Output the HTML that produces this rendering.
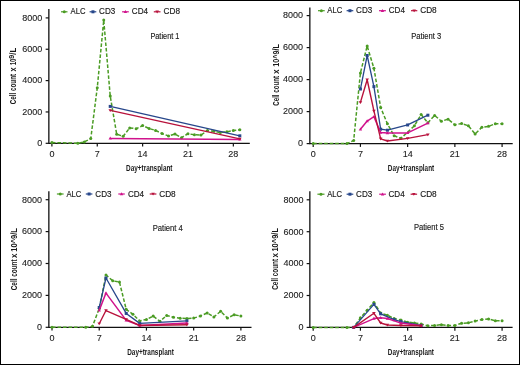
<!DOCTYPE html>
<html><head><meta charset="utf-8"><style>
html,body{margin:0;padding:0;background:#fff;}
body{width:520px;height:365px;overflow:hidden;}
svg{display:block;will-change:transform;}
text{font-family:"Liberation Sans", sans-serif;fill:#1a1a1a;}
.tk{font-size:9px;stroke:#1a1a1a;stroke-width:0.1px;}
.lg{font-size:7.65px;stroke:#1a1a1a;stroke-width:0.15px;}
.ax{font-size:9.2px;font-weight:bold;}
</style></head><body>
<svg width="520" height="365" viewBox="0 0 520 365">
<rect x="0" y="0" width="520" height="365" fill="#fff"/>
<g><path d="M48.85 9V143.3H249.8" fill="none" stroke="#111111" stroke-width="1.3"/><path d="M45.65 143.3H48.85" stroke="#111111" stroke-width="1.2"/><text x="42.3" y="146.15" text-anchor="end" class="tk">0</text><path d="M45.65 111.95H48.85" stroke="#111111" stroke-width="1.2"/><text x="42.3" y="114.8" text-anchor="end" class="tk">2000</text><path d="M45.65 80.6H48.85" stroke="#111111" stroke-width="1.2"/><text x="42.3" y="83.45" text-anchor="end" class="tk">4000</text><path d="M45.65 49.25H48.85" stroke="#111111" stroke-width="1.2"/><text x="42.3" y="52.1" text-anchor="end" class="tk">6000</text><path d="M45.65 17.9H48.85" stroke="#111111" stroke-width="1.2"/><text x="42.3" y="20.75" text-anchor="end" class="tk">8000</text><path d="M51.9 143.3V146.6" stroke="#111111" stroke-width="1.2"/><text x="51.9" y="157" text-anchor="middle" class="tk">0</text><path d="M97.26 143.3V146.6" stroke="#111111" stroke-width="1.2"/><text x="97.26" y="157" text-anchor="middle" class="tk">7</text><path d="M142.62 143.3V146.6" stroke="#111111" stroke-width="1.2"/><text x="142.62" y="157" text-anchor="middle" class="tk">14</text><path d="M187.98 143.3V146.6" stroke="#111111" stroke-width="1.2"/><text x="187.98" y="157" text-anchor="middle" class="tk">21</text><path d="M233.34 143.3V146.6" stroke="#111111" stroke-width="1.2"/><text x="233.34" y="157" text-anchor="middle" class="tk">28</text><path d="M51.9 142.52L77.82 143.3L84.3 141.89L90.78 138.6L97.26 87.81L103.74 20.09L110.22 95.96L116.7 134.21L123.18 136.29L129.66 127.91L136.14 128.71L142.62 125.6L149.1 128.5L155.58 130.4L162.06 133.6L168.54 136L175.02 134L181.5 137.7L187.98 133.71L194.46 134.8L200.94 135.1L207.42 130.51L213.9 131.31L220.38 132.48L226.86 131.86L233.34 130.51L239.82 129.8" fill="none" stroke="#4b9c24" stroke-width="1.5" stroke-linejoin="round" stroke-dasharray="3.6 1.9"/><circle cx="51.9" cy="142.52" r="1.5" fill="#4b9c24"/><circle cx="77.82" cy="143.3" r="1.5" fill="#4b9c24"/><circle cx="84.3" cy="141.89" r="1.5" fill="#4b9c24"/><circle cx="90.78" cy="138.6" r="1.5" fill="#4b9c24"/><circle cx="97.26" cy="87.81" r="1.5" fill="#4b9c24"/><circle cx="103.74" cy="20.09" r="1.5" fill="#4b9c24"/><circle cx="110.22" cy="95.96" r="1.5" fill="#4b9c24"/><circle cx="116.7" cy="134.21" r="1.5" fill="#4b9c24"/><circle cx="123.18" cy="136.29" r="1.5" fill="#4b9c24"/><circle cx="129.66" cy="127.91" r="1.5" fill="#4b9c24"/><circle cx="136.14" cy="128.71" r="1.5" fill="#4b9c24"/><circle cx="142.62" cy="125.6" r="1.5" fill="#4b9c24"/><circle cx="149.1" cy="128.5" r="1.5" fill="#4b9c24"/><circle cx="155.58" cy="130.4" r="1.5" fill="#4b9c24"/><circle cx="162.06" cy="133.6" r="1.5" fill="#4b9c24"/><circle cx="168.54" cy="136" r="1.5" fill="#4b9c24"/><circle cx="175.02" cy="134" r="1.5" fill="#4b9c24"/><circle cx="181.5" cy="137.7" r="1.5" fill="#4b9c24"/><circle cx="187.98" cy="133.71" r="1.5" fill="#4b9c24"/><circle cx="194.46" cy="134.8" r="1.5" fill="#4b9c24"/><circle cx="200.94" cy="135.1" r="1.5" fill="#4b9c24"/><circle cx="207.42" cy="130.51" r="1.5" fill="#4b9c24"/><circle cx="213.9" cy="131.31" r="1.5" fill="#4b9c24"/><circle cx="220.38" cy="132.48" r="1.5" fill="#4b9c24"/><circle cx="226.86" cy="131.86" r="1.5" fill="#4b9c24"/><circle cx="233.34" cy="130.51" r="1.5" fill="#4b9c24"/><circle cx="239.82" cy="129.8" r="1.5" fill="#4b9c24"/><path d="M110.22 106.4L239.82 135.81" fill="none" stroke="#27478b" stroke-width="1.3" stroke-linejoin="round"/><rect x="108.72" y="104.9" width="3" height="3" fill="#27478b"/><rect x="238.32" y="134.31" width="3" height="3" fill="#27478b"/><path d="M110.22 138.41L239.82 139.38" fill="none" stroke="#d0128c" stroke-width="1.5" stroke-linejoin="round"/><path d="M110.22 136.61L111.92 139.61L108.52 139.61Z" fill="#d0128c"/><path d="M239.82 137.58L241.52 140.58L238.12 140.58Z" fill="#d0128c"/><path d="M110.22 110.4L239.82 138.91" fill="none" stroke="#b8123c" stroke-width="1.4" stroke-linejoin="round"/><path d="M108.42 109.2L112.02 109.2L110.22 112Z" fill="#b8123c"/><path d="M238.02 137.71L241.62 137.71L239.82 140.51Z" fill="#b8123c"/><path d="M61 11.8H67.5" stroke="#4b9c24" stroke-width="1.2"/><circle cx="64.25" cy="11.8" r="1.5" fill="#4b9c24"/><text x="70.6" y="13.9" class="lg" style="font-size:8.6px" textLength="14.9" lengthAdjust="spacingAndGlyphs">ALC</text><path d="M89.6 11.8H96.3" stroke="#27478b" stroke-width="1.2"/><rect x="91.45" y="10.3" width="3" height="3" fill="#27478b"/><text x="99.1" y="13.9" class="lg" style="font-size:8.6px" textLength="16.2" lengthAdjust="spacingAndGlyphs">CD3</text><path d="M122.1 11.8H128.8" stroke="#d0128c" stroke-width="1.2"/><path d="M125.45 10L127.15 13L123.75 13Z" fill="#d0128c"/><text x="131.8" y="13.9" class="lg" style="font-size:8.6px" textLength="16.2" lengthAdjust="spacingAndGlyphs">CD4</text><path d="M153.8 11.8H160.5" stroke="#b8123c" stroke-width="1.2"/><path d="M155.35 10.6L158.95 10.6L157.15 13.4Z" fill="#b8123c"/><text x="163.5" y="13.9" class="lg" style="font-size:8.6px" textLength="16.5" lengthAdjust="spacingAndGlyphs">CD8</text><text x="150.4" y="39.4" class="lg" style="font-size:8.3px" textLength="29" lengthAdjust="spacingAndGlyphs">Patient 1</text><text x="126" y="170.7" class="ax" textLength="46.5" lengthAdjust="spacingAndGlyphs">Day+transplant</text><text transform="translate(16.4 104.25) rotate(-90)" x="0" y="0" class="ax" style="font-size:9.4px" textLength="30.3" lengthAdjust="spacingAndGlyphs">Cell count</text><text transform="translate(16.4 71.55) rotate(-90)" x="0" y="0" class="ax" style="font-size:9.4px" textLength="4.1" lengthAdjust="spacingAndGlyphs">x</text><text transform="translate(16.4 65.35) rotate(-90)" x="0" y="0" class="ax" style="font-size:9px" textLength="6.8" lengthAdjust="spacingAndGlyphs">10</text><text transform="translate(14 58.75) rotate(-90)" x="0" y="0" class="ax" style="font-size:7px" textLength="4" lengthAdjust="spacingAndGlyphs">9</text><text transform="translate(16.4 54.75) rotate(-90)" x="0" y="0" class="ax" style="font-size:9.5px" textLength="6.9" lengthAdjust="spacingAndGlyphs">/L</text></g>
<g><path d="M309.85 7.5V143.6H512.7" fill="none" stroke="#111111" stroke-width="1.3"/><path d="M306.65 143.6H309.85" stroke="#111111" stroke-width="1.2"/><text x="303" y="146.45" text-anchor="end" class="tk">0</text><path d="M306.65 111.6H309.85" stroke="#111111" stroke-width="1.2"/><text x="303" y="114.45" text-anchor="end" class="tk">2000</text><path d="M306.65 79.6H309.85" stroke="#111111" stroke-width="1.2"/><text x="303" y="82.45" text-anchor="end" class="tk">4000</text><path d="M306.65 47.6H309.85" stroke="#111111" stroke-width="1.2"/><text x="303" y="50.45" text-anchor="end" class="tk">6000</text><path d="M306.65 15.6H309.85" stroke="#111111" stroke-width="1.2"/><text x="303" y="18.45" text-anchor="end" class="tk">8000</text><path d="M313.2 143.6V146.9" stroke="#111111" stroke-width="1.2"/><text x="313.2" y="157.3" text-anchor="middle" class="tk">0</text><path d="M360.42 143.6V146.9" stroke="#111111" stroke-width="1.2"/><text x="360.42" y="157.3" text-anchor="middle" class="tk">7</text><path d="M407.64 143.6V146.9" stroke="#111111" stroke-width="1.2"/><text x="407.64" y="157.3" text-anchor="middle" class="tk">14</text><path d="M454.87 143.6V146.9" stroke="#111111" stroke-width="1.2"/><text x="454.87" y="157.3" text-anchor="middle" class="tk">21</text><path d="M502.09 143.6V146.9" stroke="#111111" stroke-width="1.2"/><text x="502.09" y="157.3" text-anchor="middle" class="tk">28</text><path d="M313.2 143.6L346.93 143.6L353.68 140.4L360.42 72.88L367.17 46L373.91 68.3L380.66 107.44L387.41 123.84L394.15 135.7L400.9 138.32L414.39 125.81L421.14 114.5L427.88 122.8L434.63 115.41L441.37 121.2L448.12 119.2L454.87 124.8L461.61 123.5L468.36 125.81L475.1 134L481.85 127.3L488.6 126.3L495.34 123.81L502.09 123.81" fill="none" stroke="#4b9c24" stroke-width="1.5" stroke-linejoin="round" stroke-dasharray="3.6 1.9"/><circle cx="313.2" cy="143.6" r="1.5" fill="#4b9c24"/><circle cx="346.93" cy="143.6" r="1.5" fill="#4b9c24"/><circle cx="353.68" cy="140.4" r="1.5" fill="#4b9c24"/><circle cx="360.42" cy="72.88" r="1.5" fill="#4b9c24"/><circle cx="367.17" cy="46" r="1.5" fill="#4b9c24"/><circle cx="373.91" cy="68.3" r="1.5" fill="#4b9c24"/><circle cx="380.66" cy="107.44" r="1.5" fill="#4b9c24"/><circle cx="387.41" cy="123.84" r="1.5" fill="#4b9c24"/><circle cx="394.15" cy="135.7" r="1.5" fill="#4b9c24"/><circle cx="400.9" cy="138.32" r="1.5" fill="#4b9c24"/><circle cx="414.39" cy="125.81" r="1.5" fill="#4b9c24"/><circle cx="421.14" cy="114.5" r="1.5" fill="#4b9c24"/><circle cx="427.88" cy="122.8" r="1.5" fill="#4b9c24"/><circle cx="434.63" cy="115.41" r="1.5" fill="#4b9c24"/><circle cx="441.37" cy="121.2" r="1.5" fill="#4b9c24"/><circle cx="448.12" cy="119.2" r="1.5" fill="#4b9c24"/><circle cx="454.87" cy="124.8" r="1.5" fill="#4b9c24"/><circle cx="461.61" cy="123.5" r="1.5" fill="#4b9c24"/><circle cx="468.36" cy="125.81" r="1.5" fill="#4b9c24"/><circle cx="475.1" cy="134" r="1.5" fill="#4b9c24"/><circle cx="481.85" cy="127.3" r="1.5" fill="#4b9c24"/><circle cx="488.6" cy="126.3" r="1.5" fill="#4b9c24"/><circle cx="495.34" cy="123.81" r="1.5" fill="#4b9c24"/><circle cx="502.09" cy="123.81" r="1.5" fill="#4b9c24"/><path d="M360.42 89.01L367.17 55.5L373.91 86.61L380.66 129.2L387.41 130.21L407.64 124.96L427.88 115.2" fill="none" stroke="#27478b" stroke-width="1.3" stroke-linejoin="round"/><rect x="358.92" y="87.51" width="3" height="3" fill="#27478b"/><rect x="365.67" y="54" width="3" height="3" fill="#27478b"/><rect x="372.41" y="85.11" width="3" height="3" fill="#27478b"/><rect x="379.16" y="127.7" width="3" height="3" fill="#27478b"/><rect x="385.91" y="128.71" width="3" height="3" fill="#27478b"/><rect x="406.14" y="123.46" width="3" height="3" fill="#27478b"/><rect x="426.38" y="113.7" width="3" height="3" fill="#27478b"/><path d="M360.42 129.3L367.17 121.04L373.91 116.72L380.66 132.61L387.41 133.01L407.64 132.88L427.88 123.1" fill="none" stroke="#d0128c" stroke-width="1.5" stroke-linejoin="round"/><path d="M360.42 127.5L362.12 130.5L358.72 130.5Z" fill="#d0128c"/><path d="M367.17 119.24L368.87 122.24L365.47 122.24Z" fill="#d0128c"/><path d="M373.91 114.92L375.61 117.92L372.21 117.92Z" fill="#d0128c"/><path d="M380.66 130.81L382.36 133.81L378.96 133.81Z" fill="#d0128c"/><path d="M387.41 131.21L389.11 134.21L385.71 134.21Z" fill="#d0128c"/><path d="M407.64 131.08L409.34 134.08L405.94 134.08Z" fill="#d0128c"/><path d="M427.88 121.3L429.58 124.3L426.18 124.3Z" fill="#d0128c"/><path d="M360.42 102.4L367.17 79.76L373.91 110.85L380.66 138.8L387.41 141.01L407.64 138.35L427.88 134.61" fill="none" stroke="#b8123c" stroke-width="1.4" stroke-linejoin="round"/><path d="M358.62 101.2L362.22 101.2L360.42 104Z" fill="#b8123c"/><path d="M365.37 78.56L368.97 78.56L367.17 81.36Z" fill="#b8123c"/><path d="M372.11 109.65L375.71 109.65L373.91 112.45Z" fill="#b8123c"/><path d="M378.86 137.6L382.46 137.6L380.66 140.4Z" fill="#b8123c"/><path d="M385.61 139.81L389.21 139.81L387.41 142.61Z" fill="#b8123c"/><path d="M405.84 137.15L409.44 137.15L407.64 139.95Z" fill="#b8123c"/><path d="M426.08 133.41L429.68 133.41L427.88 136.21Z" fill="#b8123c"/><path d="M318 10.7H324.7" stroke="#4b9c24" stroke-width="1.2"/><circle cx="321.35" cy="10.7" r="1.5" fill="#4b9c24"/><text x="327.3" y="13.3" class="lg" style="font-size:8.6px" textLength="14.9" lengthAdjust="spacingAndGlyphs">ALC</text><path d="M346.6 10.7H353.3" stroke="#27478b" stroke-width="1.2"/><rect x="348.45" y="9.2" width="3" height="3" fill="#27478b"/><text x="356.1" y="13.3" class="lg" style="font-size:8.6px" textLength="16.2" lengthAdjust="spacingAndGlyphs">CD3</text><path d="M379 10.7H385.9" stroke="#d0128c" stroke-width="1.2"/><path d="M382.45 8.9L384.15 11.9L380.75 11.9Z" fill="#d0128c"/><text x="388.7" y="13.3" class="lg" style="font-size:8.6px" textLength="16.2" lengthAdjust="spacingAndGlyphs">CD4</text><path d="M411 10.7H417.3" stroke="#b8123c" stroke-width="1.2"/><path d="M412.35 9.5L415.95 9.5L414.15 12.3Z" fill="#b8123c"/><text x="420.2" y="13.3" class="lg" style="font-size:8.6px" textLength="16.5" lengthAdjust="spacingAndGlyphs">CD8</text><text x="411.3" y="39.4" class="lg" style="font-size:8.3px" textLength="29.9" lengthAdjust="spacingAndGlyphs">Patient 3</text><text x="387.8" y="170.7" class="ax" textLength="46.4" lengthAdjust="spacingAndGlyphs">Day+transplant</text><text transform="translate(278.5 105.75) rotate(-90)" x="0" y="0" class="ax" style="font-size:9.4px" textLength="29.8" lengthAdjust="spacingAndGlyphs">Cell count</text><text transform="translate(278.5 73.95) rotate(-90)" x="0" y="0" class="ax" style="font-size:9.4px" textLength="4.6" lengthAdjust="spacingAndGlyphs">x</text><text transform="translate(278.5 66.75) rotate(-90)" x="0" y="0" class="ax" style="font-size:9.5px" textLength="22.8" lengthAdjust="spacingAndGlyphs">10^9/L</text></g>
<g><path d="M48.85 191.2V327.3H251.5" fill="none" stroke="#111111" stroke-width="1.3"/><path d="M45.65 327.3H48.85" stroke="#111111" stroke-width="1.2"/><text x="42" y="330.15" text-anchor="end" class="tk">0</text><path d="M45.65 295.4H48.85" stroke="#111111" stroke-width="1.2"/><text x="42" y="298.25" text-anchor="end" class="tk">2000</text><path d="M45.65 263.5H48.85" stroke="#111111" stroke-width="1.2"/><text x="42" y="266.35" text-anchor="end" class="tk">4000</text><path d="M45.65 231.6H48.85" stroke="#111111" stroke-width="1.2"/><text x="42" y="234.45" text-anchor="end" class="tk">6000</text><path d="M45.65 199.7H48.85" stroke="#111111" stroke-width="1.2"/><text x="42" y="202.55" text-anchor="end" class="tk">8000</text><path d="M52 327.3V330.6" stroke="#111111" stroke-width="1.2"/><text x="52" y="341" text-anchor="middle" class="tk">0</text><path d="M99.22 327.3V330.6" stroke="#111111" stroke-width="1.2"/><text x="99.22" y="341" text-anchor="middle" class="tk">7</text><path d="M146.44 327.3V330.6" stroke="#111111" stroke-width="1.2"/><text x="146.44" y="341" text-anchor="middle" class="tk">14</text><path d="M193.67 327.3V330.6" stroke="#111111" stroke-width="1.2"/><text x="193.67" y="341" text-anchor="middle" class="tk">21</text><path d="M240.89 327.3V330.6" stroke="#111111" stroke-width="1.2"/><text x="240.89" y="341" text-anchor="middle" class="tk">28</text><path d="M52 327.3L85.73 327.3L92.48 326.34L99.22 308.48L105.97 274.9L112.71 280.81L119.46 282.1L126.21 309.36L132.95 314.3L139.7 320.9L146.44 319.4L153.19 316.1L159.94 321.3L166.68 315.5L173.43 317.3L180.17 318.21L186.92 318.5L193.67 318.1L200.41 316.01L207.16 312.9L213.9 316.9L220.65 311.3L227.4 318.1L234.14 314.8L240.89 316.01" fill="none" stroke="#4b9c24" stroke-width="1.5" stroke-linejoin="round" stroke-dasharray="3.6 1.9"/><circle cx="52" cy="327.3" r="1.5" fill="#4b9c24"/><circle cx="85.73" cy="327.3" r="1.5" fill="#4b9c24"/><circle cx="92.48" cy="326.34" r="1.5" fill="#4b9c24"/><circle cx="99.22" cy="308.48" r="1.5" fill="#4b9c24"/><circle cx="105.97" cy="274.9" r="1.5" fill="#4b9c24"/><circle cx="112.71" cy="280.81" r="1.5" fill="#4b9c24"/><circle cx="119.46" cy="282.1" r="1.5" fill="#4b9c24"/><circle cx="126.21" cy="309.36" r="1.5" fill="#4b9c24"/><circle cx="132.95" cy="314.3" r="1.5" fill="#4b9c24"/><circle cx="139.7" cy="320.9" r="1.5" fill="#4b9c24"/><circle cx="146.44" cy="319.4" r="1.5" fill="#4b9c24"/><circle cx="153.19" cy="316.1" r="1.5" fill="#4b9c24"/><circle cx="159.94" cy="321.3" r="1.5" fill="#4b9c24"/><circle cx="166.68" cy="315.5" r="1.5" fill="#4b9c24"/><circle cx="173.43" cy="317.3" r="1.5" fill="#4b9c24"/><circle cx="180.17" cy="318.21" r="1.5" fill="#4b9c24"/><circle cx="186.92" cy="318.5" r="1.5" fill="#4b9c24"/><circle cx="193.67" cy="318.1" r="1.5" fill="#4b9c24"/><circle cx="200.41" cy="316.01" r="1.5" fill="#4b9c24"/><circle cx="207.16" cy="312.9" r="1.5" fill="#4b9c24"/><circle cx="213.9" cy="316.9" r="1.5" fill="#4b9c24"/><circle cx="220.65" cy="311.3" r="1.5" fill="#4b9c24"/><circle cx="227.4" cy="318.1" r="1.5" fill="#4b9c24"/><circle cx="234.14" cy="314.8" r="1.5" fill="#4b9c24"/><circle cx="240.89" cy="316.01" r="1.5" fill="#4b9c24"/><path d="M99.22 307.51L105.97 278L126.21 313.42L139.7 323.39L186.92 320.79" fill="none" stroke="#27478b" stroke-width="1.3" stroke-linejoin="round"/><rect x="97.72" y="306.01" width="3" height="3" fill="#27478b"/><rect x="104.47" y="276.5" width="3" height="3" fill="#27478b"/><rect x="124.71" y="311.92" width="3" height="3" fill="#27478b"/><rect x="138.2" y="321.89" width="3" height="3" fill="#27478b"/><rect x="185.42" y="319.29" width="3" height="3" fill="#27478b"/><path d="M99.22 310.39L105.97 293.1L126.21 320.35L139.7 325.5L186.92 323.11" fill="none" stroke="#d0128c" stroke-width="1.5" stroke-linejoin="round"/><path d="M99.22 308.59L100.92 311.59L97.52 311.59Z" fill="#d0128c"/><path d="M105.97 291.3L107.67 294.3L104.27 294.3Z" fill="#d0128c"/><path d="M126.21 318.55L127.91 321.55L124.51 321.55Z" fill="#d0128c"/><path d="M139.7 323.7L141.4 326.7L138 326.7Z" fill="#d0128c"/><path d="M186.92 321.31L188.62 324.31L185.22 324.31Z" fill="#d0128c"/><path d="M99.22 323.7L105.97 310.55L126.21 319.4L139.7 325.5L186.92 324.8" fill="none" stroke="#b8123c" stroke-width="1.4" stroke-linejoin="round"/><path d="M97.42 322.5L101.02 322.5L99.22 325.3Z" fill="#b8123c"/><path d="M104.17 309.35L107.77 309.35L105.97 312.15Z" fill="#b8123c"/><path d="M124.41 318.2L128.01 318.2L126.21 321Z" fill="#b8123c"/><path d="M137.9 324.3L141.5 324.3L139.7 327.1Z" fill="#b8123c"/><path d="M185.12 323.6L188.72 323.6L186.92 326.4Z" fill="#b8123c"/><path d="M56.9 194H63.6" stroke="#4b9c24" stroke-width="1.2"/><circle cx="60.25" cy="194" r="1.5" fill="#4b9c24"/><text x="66.4" y="196.5" class="lg" style="font-size:8.6px" textLength="14.9" lengthAdjust="spacingAndGlyphs">ALC</text><path d="M85.8 194H92.4" stroke="#27478b" stroke-width="1.2"/><rect x="87.6" y="192.5" width="3" height="3" fill="#27478b"/><text x="95.3" y="196.5" class="lg" style="font-size:8.6px" textLength="16.2" lengthAdjust="spacingAndGlyphs">CD3</text><path d="M118.3 194H124.8" stroke="#d0128c" stroke-width="1.2"/><path d="M121.55 192.2L123.25 195.2L119.85 195.2Z" fill="#d0128c"/><text x="127.9" y="196.5" class="lg" style="font-size:8.6px" textLength="16.2" lengthAdjust="spacingAndGlyphs">CD4</text><path d="M149.7 194H156.4" stroke="#b8123c" stroke-width="1.2"/><path d="M151.25 192.8L154.85 192.8L153.05 195.6Z" fill="#b8123c"/><text x="159.2" y="196.5" class="lg" style="font-size:8.6px" textLength="16.5" lengthAdjust="spacingAndGlyphs">CD8</text><text x="152.7" y="230.6" class="lg" style="font-size:8.3px" textLength="30.1" lengthAdjust="spacingAndGlyphs">Patient 4</text><text x="127.2" y="355" class="ax" textLength="46.6" lengthAdjust="spacingAndGlyphs">Day+transplant</text><text transform="translate(17.3 290.25) rotate(-90)" x="0" y="0" class="ax" style="font-size:9.4px" textLength="30.9" lengthAdjust="spacingAndGlyphs">Cell count</text><text transform="translate(17.3 257.95) rotate(-90)" x="0" y="0" class="ax" style="font-size:9.4px" textLength="4.5" lengthAdjust="spacingAndGlyphs">x</text><text transform="translate(17.3 251.75) rotate(-90)" x="0" y="0" class="ax" style="font-size:9.5px" textLength="23.7" lengthAdjust="spacingAndGlyphs">10^9/L</text></g>
<g><path d="M309.85 191.2V327.4H512.6" fill="none" stroke="#111111" stroke-width="1.3"/><path d="M306.65 327.4H309.85" stroke="#111111" stroke-width="1.2"/><text x="303.6" y="330.25" text-anchor="end" class="tk">0</text><path d="M306.65 295.5H309.85" stroke="#111111" stroke-width="1.2"/><text x="303.6" y="298.35" text-anchor="end" class="tk">2000</text><path d="M306.65 263.6H309.85" stroke="#111111" stroke-width="1.2"/><text x="303.6" y="266.45" text-anchor="end" class="tk">4000</text><path d="M306.65 231.7H309.85" stroke="#111111" stroke-width="1.2"/><text x="303.6" y="234.55" text-anchor="end" class="tk">6000</text><path d="M306.65 199.8H309.85" stroke="#111111" stroke-width="1.2"/><text x="303.6" y="202.65" text-anchor="end" class="tk">8000</text><path d="M313.2 327.4V330.7" stroke="#111111" stroke-width="1.2"/><text x="313.2" y="341.1" text-anchor="middle" class="tk">0</text><path d="M360.42 327.4V330.7" stroke="#111111" stroke-width="1.2"/><text x="360.42" y="341.1" text-anchor="middle" class="tk">7</text><path d="M407.64 327.4V330.7" stroke="#111111" stroke-width="1.2"/><text x="407.64" y="341.1" text-anchor="middle" class="tk">14</text><path d="M454.87 327.4V330.7" stroke="#111111" stroke-width="1.2"/><text x="454.87" y="341.1" text-anchor="middle" class="tk">21</text><path d="M502.09 327.4V330.7" stroke="#111111" stroke-width="1.2"/><text x="502.09" y="341.1" text-anchor="middle" class="tk">28</text><path d="M313.2 327.4L346.93 327.4L353.68 327.4L360.42 317.83L367.17 310.17L373.91 302.5L380.66 313.04L387.41 315.2L394.15 318.47L400.9 320L407.64 322.14L414.39 322.9L421.14 324L427.88 325.8L434.63 325.41L441.37 324.7L448.12 325.41L454.87 325.41L461.61 323.3L468.36 322.81L475.1 321.1L481.85 319.5L488.6 318.99L495.34 320.7L502.09 320.7" fill="none" stroke="#4b9c24" stroke-width="1.5" stroke-linejoin="round" stroke-dasharray="3.6 1.9"/><circle cx="313.2" cy="327.4" r="1.5" fill="#4b9c24"/><circle cx="346.93" cy="327.4" r="1.5" fill="#4b9c24"/><circle cx="353.68" cy="327.4" r="1.5" fill="#4b9c24"/><circle cx="360.42" cy="317.83" r="1.5" fill="#4b9c24"/><circle cx="367.17" cy="310.17" r="1.5" fill="#4b9c24"/><circle cx="373.91" cy="302.5" r="1.5" fill="#4b9c24"/><circle cx="380.66" cy="313.04" r="1.5" fill="#4b9c24"/><circle cx="387.41" cy="315.2" r="1.5" fill="#4b9c24"/><circle cx="394.15" cy="318.47" r="1.5" fill="#4b9c24"/><circle cx="400.9" cy="320" r="1.5" fill="#4b9c24"/><circle cx="407.64" cy="322.14" r="1.5" fill="#4b9c24"/><circle cx="414.39" cy="322.9" r="1.5" fill="#4b9c24"/><circle cx="421.14" cy="324" r="1.5" fill="#4b9c24"/><circle cx="427.88" cy="325.8" r="1.5" fill="#4b9c24"/><circle cx="434.63" cy="325.41" r="1.5" fill="#4b9c24"/><circle cx="441.37" cy="324.7" r="1.5" fill="#4b9c24"/><circle cx="448.12" cy="325.41" r="1.5" fill="#4b9c24"/><circle cx="454.87" cy="325.41" r="1.5" fill="#4b9c24"/><circle cx="461.61" cy="323.3" r="1.5" fill="#4b9c24"/><circle cx="468.36" cy="322.81" r="1.5" fill="#4b9c24"/><circle cx="475.1" cy="321.1" r="1.5" fill="#4b9c24"/><circle cx="481.85" cy="319.5" r="1.5" fill="#4b9c24"/><circle cx="488.6" cy="318.99" r="1.5" fill="#4b9c24"/><circle cx="495.34" cy="320.7" r="1.5" fill="#4b9c24"/><circle cx="502.09" cy="320.7" r="1.5" fill="#4b9c24"/><path d="M353.68 327.4L373.91 304.4L380.66 313.84L394.15 319.7L400.9 321.59L421.14 325.49" fill="none" stroke="#27478b" stroke-width="1.3" stroke-linejoin="round"/><rect x="352.18" y="325.9" width="3" height="3" fill="#27478b"/><rect x="372.41" y="302.9" width="3" height="3" fill="#27478b"/><rect x="379.16" y="312.34" width="3" height="3" fill="#27478b"/><rect x="392.65" y="318.2" width="3" height="3" fill="#27478b"/><rect x="399.4" y="320.09" width="3" height="3" fill="#27478b"/><rect x="419.64" y="323.99" width="3" height="3" fill="#27478b"/><path d="M353.68 327.4L373.91 318.6L380.66 317.83L387.41 318.5L400.9 323.09L421.14 325.8" fill="none" stroke="#d0128c" stroke-width="1.5" stroke-linejoin="round"/><path d="M353.68 325.6L355.38 328.6L351.98 328.6Z" fill="#d0128c"/><path d="M373.91 316.8L375.61 319.8L372.21 319.8Z" fill="#d0128c"/><path d="M380.66 316.03L382.36 319.03L378.96 319.03Z" fill="#d0128c"/><path d="M387.41 316.7L389.11 319.7L385.71 319.7Z" fill="#d0128c"/><path d="M400.9 321.29L402.6 324.29L399.2 324.29Z" fill="#d0128c"/><path d="M421.14 324L422.84 327L419.44 327Z" fill="#d0128c"/><path d="M353.68 327.4L373.91 313.3L380.66 323L387.41 325.01L400.9 325.5L421.14 325.8" fill="none" stroke="#b8123c" stroke-width="1.4" stroke-linejoin="round"/><path d="M351.88 326.2L355.48 326.2L353.68 329Z" fill="#b8123c"/><path d="M372.11 312.1L375.71 312.1L373.91 314.9Z" fill="#b8123c"/><path d="M378.86 321.8L382.46 321.8L380.66 324.6Z" fill="#b8123c"/><path d="M385.61 323.81L389.21 323.81L387.41 326.61Z" fill="#b8123c"/><path d="M399.1 324.3L402.7 324.3L400.9 327.1Z" fill="#b8123c"/><path d="M419.34 324.6L422.94 324.6L421.14 327.4Z" fill="#b8123c"/><path d="M317.4 194.2H324.5" stroke="#4b9c24" stroke-width="1.2"/><circle cx="320.95" cy="194.2" r="1.5" fill="#4b9c24"/><text x="327.2" y="196.5" class="lg" style="font-size:8.6px" textLength="14.9" lengthAdjust="spacingAndGlyphs">ALC</text><path d="M346.6 194.2H353.3" stroke="#27478b" stroke-width="1.2"/><rect x="348.45" y="192.7" width="3" height="3" fill="#27478b"/><text x="356.1" y="196.5" class="lg" style="font-size:8.6px" textLength="16.2" lengthAdjust="spacingAndGlyphs">CD3</text><path d="M379.2 194.2H385.9" stroke="#d0128c" stroke-width="1.2"/><path d="M382.55 192.4L384.25 195.4L380.85 195.4Z" fill="#d0128c"/><text x="388.5" y="196.5" class="lg" style="font-size:8.6px" textLength="16.2" lengthAdjust="spacingAndGlyphs">CD4</text><path d="M410.6 194.2H417.1" stroke="#b8123c" stroke-width="1.2"/><path d="M412.05 193L415.65 193L413.85 195.8Z" fill="#b8123c"/><text x="420.2" y="196.5" class="lg" style="font-size:8.6px" textLength="16.5" lengthAdjust="spacingAndGlyphs">CD8</text><text x="413.9" y="229.9" class="lg" style="font-size:8.3px" textLength="30" lengthAdjust="spacingAndGlyphs">Patient 5</text><text x="387.8" y="355" class="ax" textLength="46.2" lengthAdjust="spacingAndGlyphs">Day+transplant</text><text transform="translate(278.1 289.75) rotate(-90)" x="0" y="0" class="ax" style="font-size:9.4px" textLength="30.9" lengthAdjust="spacingAndGlyphs">Cell count</text><text transform="translate(278.1 257.45) rotate(-90)" x="0" y="0" class="ax" style="font-size:9.4px" textLength="4.5" lengthAdjust="spacingAndGlyphs">x</text><text transform="translate(278.1 251.55) rotate(-90)" x="0" y="0" class="ax" style="font-size:9.5px" textLength="23.5" lengthAdjust="spacingAndGlyphs">10^9/L</text></g>
<rect x="0.5" y="0.5" width="519" height="364" fill="none" stroke="#000" stroke-width="1"/>
</svg>
</body></html>
